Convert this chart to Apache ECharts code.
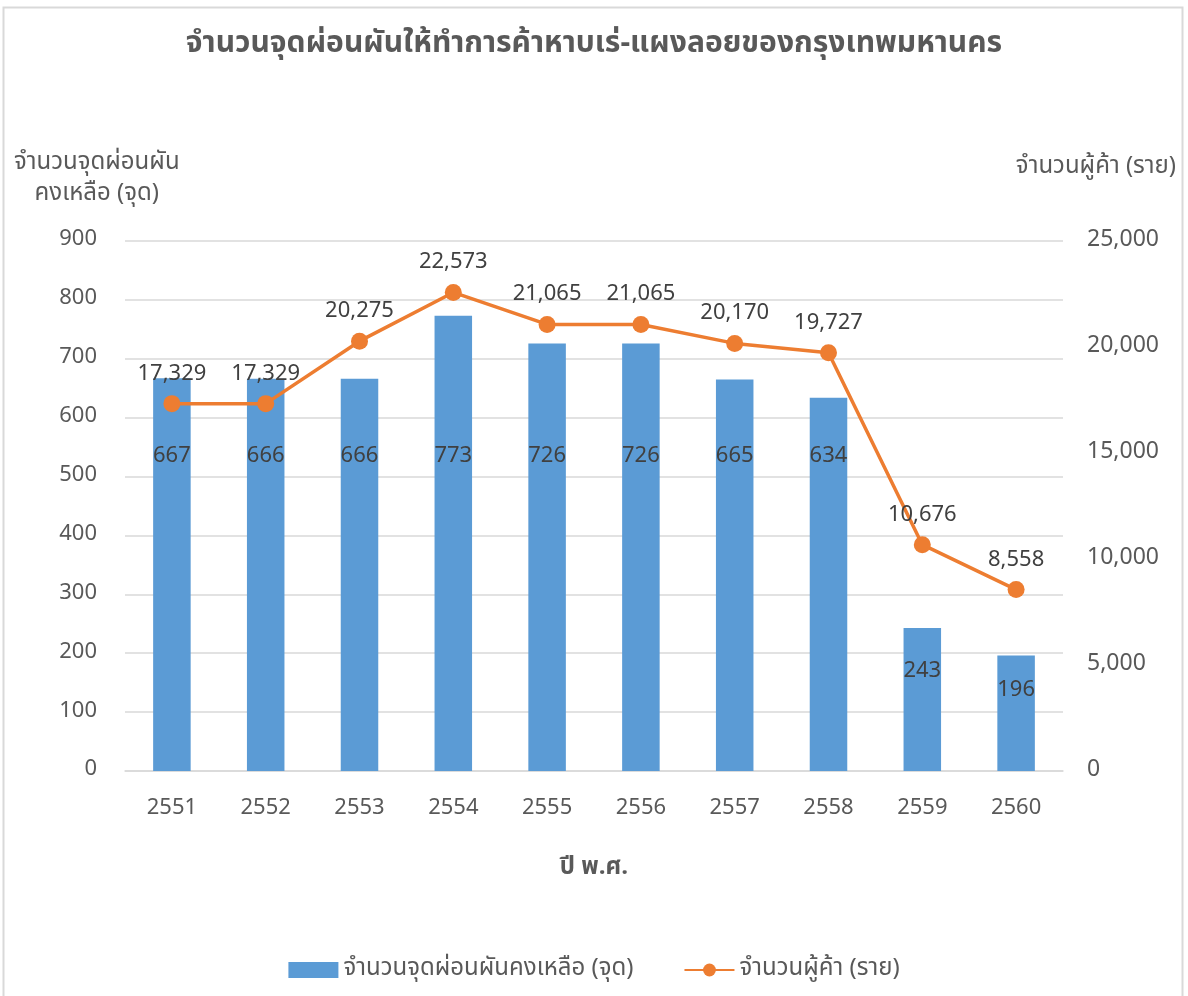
<!DOCTYPE html>
<html><head><meta charset="utf-8">
<script src="https://cdn.jsdelivr.net/npm/echarts@6/dist/echarts.min.js"></script>
<style>html,body{margin:0;padding:0;background:#fff}#c{width:1188px;height:996px}</style>
</head><body><div id="c"></div>
<script>
const categories = ['2551','2552','2553','2554','2555','2556','2557','2558','2559','2560'];
const stallsRemaining = [667, 666, 666, 773, 726, 726, 665, 634, 243, 196];
const vendors = [17329, 17329, 20275, 22573, 21065, 21065, 20170, 19727, 10676, 8558];
const leftTicks = [0, 900, 100];
const rightTicks = [0, 25000, 5000];
const titleText = 'จำนวนจุดผ่อนผันให้ทำการค้าหาบเร่-แผงลอยของกรุงเทพมหานคร';
const barName = 'จำนวนจุดผ่อนผันคงเหลือ (จุด)';
const lineName = 'จำนวนผู้ค้า (ราย)';
const leftAxisName = 'จำนวนจุดผ่อนผัน\nคงเหลือ (จุด)';
const xAxisName = 'ปี พ.ศ.';

const FONT = "Tahoma, 'Noto Sans Thai', 'Noto Sans', 'DejaVu Sans', sans-serif";
const GREY = '#595959';
const chart = echarts.init(document.getElementById('c'), null, {renderer: 'canvas'});
const fmt = v => v.toLocaleString('en-US');

const option = {
  backgroundColor: '#fff',
  animation: false,
  textStyle: {fontFamily: FONT},
  graphic: [
    {type: 'rect', shape: {x: 3.5, y: 7.5, width: 1179, height: 1000}, style: {fill: 'none', stroke: '#d9d9d9', lineWidth: 2}},
    {type: 'text', left: 14, top: 149, style: {text: leftAxisName, font: '24px ' + FONT, fill: GREY, textAlign: 'center', lineHeight: 31}},
    {type: 'text', right: 12, top: 156, style: {text: lineName, font: '24px ' + FONT, fill: GREY}},
    {type: 'text', left: 'center', top: 857, style: {text: xAxisName, font: 'bold 24px ' + FONT, fill: GREY}}
  ],
  title: {
    text: titleText, left: 'center', top: 26,
    textStyle: {fontFamily: FONT, fontSize: 30, fontWeight: 'bold', color: GREY}
  },
  legend: {
    bottom: 9, left: 'center', itemGap: 50, itemWidth: 50, itemHeight: 16,
    textStyle: {fontFamily: FONT, fontSize: 24, color: GREY},
    data: [
      {name: barName, icon: 'rect', itemStyle: {}},
      {name: lineName}
    ]
  },
  grid: {left: 125, right: 125, top: 241, bottom: 225, containLabel: false},
  xAxis: {
    type: 'category', data: categories,
    axisLine: {lineStyle: {color: '#d9d9d9', width: 1.5}},
    axisTick: {show: false},
    axisLabel: {fontSize: 22, color: GREY, margin: 28, fontFamily: FONT}
  },
  yAxis: [
    {type: 'value', min: leftTicks[0], max: leftTicks[1], interval: leftTicks[2],
     axisLine: {show: false}, axisTick: {show: false},
     splitLine: {lineStyle: {color: '#d9d9d9', width: 1.5}},
     axisLabel: {fontSize: 22, color: GREY, margin: 28, fontFamily: FONT}},
    {type: 'value', min: rightTicks[0], max: rightTicks[1], interval: rightTicks[2],
     axisLine: {show: false}, axisTick: {show: false}, splitLine: {show: false},
     axisLabel: {fontSize: 23, color: GREY, margin: 24, fontFamily: FONT, formatter: v => fmt(v)}}
  ],
  series: [
    {
      name: barName, type: 'bar', yAxisIndex: 0, barWidth: '40%',
      itemStyle: {color: '#5b9bd5'},
      data: stallsRemaining,
      label: {show: true, position: 'inside', fontSize: 22, color: '#404040', fontFamily: FONT}
    },
    {
      name: lineName, type: 'line', yAxisIndex: 1,
      data: vendors,
      symbol: 'circle', symbolSize: 17,
      lineStyle: {color: '#ed7d31', width: 3.5},
      itemStyle: {color: '#ed7d31'},
      label: {show: true, position: 'top', distance: 9, fontSize: 22, color: '#404040', fontFamily: FONT, formatter: p => fmt(p.value)},
      z: 5
    }
  ]
};
chart.setOption(option);

// place bar labels like the reference (inside the bar, in its lower part)
const pix = v => chart.convertToPixel({yAxisIndex: 0}, v);
const barData = stallsRemaining.map(v => {
  const target = v > 400 ? 533 : v * 0.69;
  const center = (pix(v) + pix(0)) / 2;
  return {value: v, label: {offset: [0, pix(target) - center]}};
});
chart.setOption({series: [{data: barData}]});
</script></body></html>
